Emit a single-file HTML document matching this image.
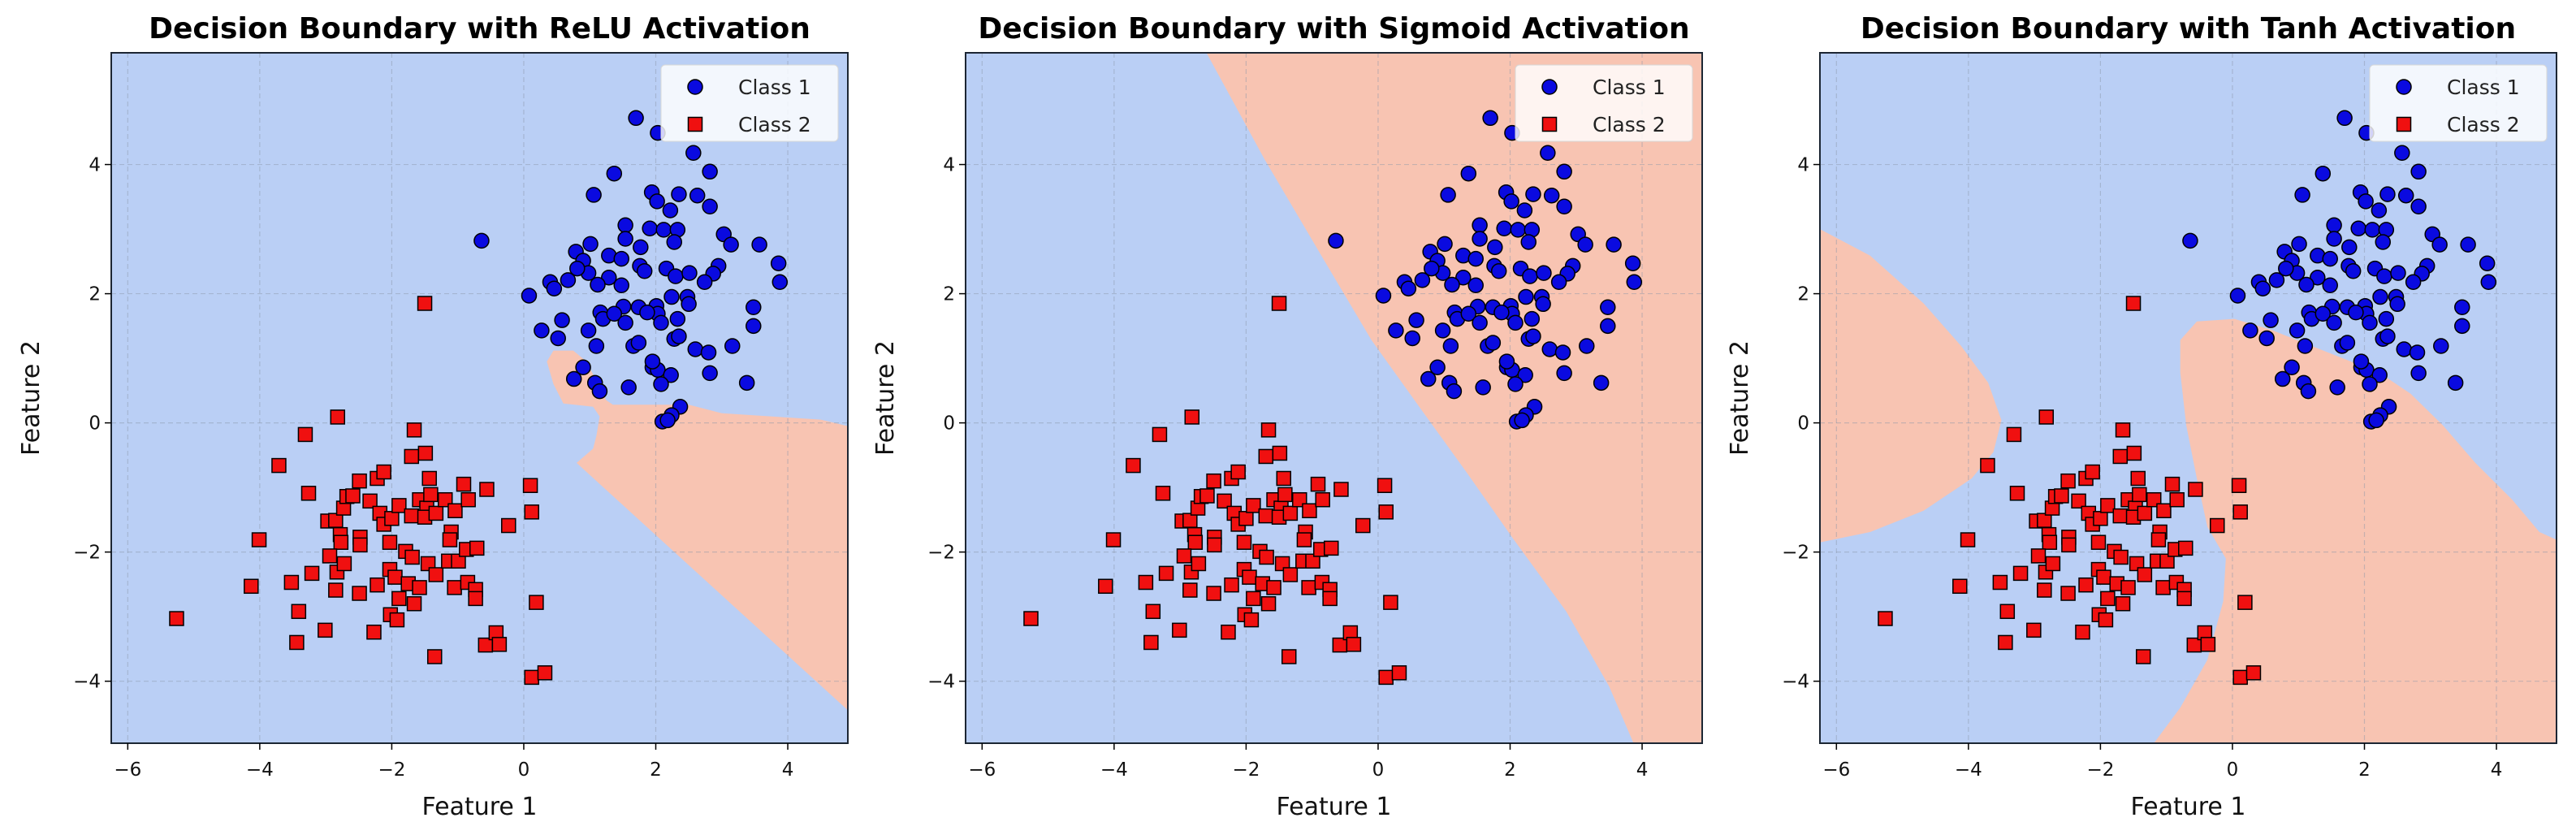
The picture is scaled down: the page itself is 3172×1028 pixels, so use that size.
<!DOCTYPE html>
<html><head><meta charset="utf-8">
<style>
html,body{margin:0;padding:0;background:#fff;}
svg{display:block;font-family:"DejaVu Sans","Liberation Sans",sans-serif;}
</style></head>
<body>
<svg id="fig" width="3172" height="1028" viewBox="0 0 3172 1028" xmlns="http://www.w3.org/2000/svg"></svg>
<script>
// ---- data ----
const class1X = [1.70,2.03,2.57,2.82,1.37,1.06,1.94,2.02,2.35,2.63,2.22,2.82,-0.64,1.54,1.91,2.12,2.33,2.28,1.01,0.79,1.54,1.77,3.03,3.14,3.57,1.29,1.48,0.90,0.98,0.81,1.76,1.83,1.29,1.48,1.12,0.67,0.40,0.46,0.08,2.16,2.30,2.51,2.95,2.87,2.74,3.86,3.88,2.24,2.48,2.50,2.01,2.03,1.51,1.74,1.87,1.16,1.20,1.37,1.54,2.08,2.33,0.58,0.27,0.52,0.98,1.10,1.66,1.74,2.28,2.35,2.60,2.80,3.16,3.48,3.48,3.38,2.82,1.95,2.03,1.95,2.23,2.08,0.90,0.76,1.08,1.15,1.59,2.37,2.24,2.10,2.18];
const class1Y = [4.72,4.49,4.18,3.89,3.86,3.53,3.57,3.43,3.54,3.52,3.29,3.35,2.82,3.06,3.01,2.99,2.99,2.80,2.77,2.65,2.85,2.72,2.92,2.76,2.76,2.59,2.54,2.51,2.32,2.39,2.43,2.35,2.25,2.13,2.14,2.21,2.18,2.08,1.97,2.39,2.27,2.32,2.43,2.31,2.18,2.47,2.18,1.95,1.95,1.84,1.81,1.69,1.80,1.79,1.71,1.71,1.61,1.69,1.55,1.55,1.61,1.59,1.43,1.31,1.43,1.19,1.19,1.24,1.30,1.34,1.14,1.09,1.19,1.79,1.50,0.62,0.77,0.86,0.82,0.95,0.74,0.60,0.86,0.68,0.62,0.49,0.55,0.25,0.12,0.02,0.04];
const class2X = [-5.26,-4.13,-4.01,-3.71,-3.52,-3.41,-3.44,-3.31,-3.26,-3.21,-3.01,-2.82,-2.97,-2.85,-2.73,-2.68,-2.59,-2.49,-2.78,-2.77,-2.94,-2.83,-2.85,-2.72,-2.48,-2.48,-2.49,-2.33,-2.22,-2.12,-2.18,-2.12,-2.00,-1.89,-2.03,-2.22,-2.03,-1.95,-2.02,-1.92,-2.27,-1.89,-1.79,-1.69,-1.75,-1.66,-1.58,-1.70,-1.58,-1.47,-1.50,-1.70,-1.49,-1.66,-1.43,-1.41,-1.33,-1.19,-1.45,-1.33,-1.35,-1.14,-1.10,-1.12,-1.04,-0.99,-1.05,-0.84,-0.91,-0.87,-0.71,-0.85,-0.73,-0.73,-0.56,-0.58,-0.42,-0.37,-0.23,0.10,0.12,0.19,0.12,0.32,-1.50];
const class2Y = [-3.03,-2.53,-1.81,-0.66,-2.47,-2.92,-3.40,-0.18,-1.09,-2.33,-3.21,0.09,-1.52,-1.51,-1.32,-1.14,-1.13,-0.90,-1.73,-1.85,-2.06,-2.31,-2.59,-2.18,-1.77,-1.89,-2.64,-1.21,-0.86,-0.76,-1.40,-1.57,-1.48,-1.28,-1.85,-2.51,-2.27,-2.39,-2.97,-3.05,-3.24,-2.72,-1.99,-2.08,-2.49,-2.80,-2.55,-1.44,-1.19,-1.32,-1.46,-0.52,-0.47,-0.11,-0.86,-1.11,-1.40,-1.19,-2.18,-2.35,-3.62,-2.14,-1.69,-1.81,-1.36,-2.14,-2.55,-1.19,-0.95,-1.96,-1.94,-2.47,-2.58,-2.72,-1.03,-3.44,-3.25,-3.43,-1.59,-0.97,-1.38,-2.78,-3.94,-3.87,1.85];
const xTicks = [-6,-4,-2,0,2,4];
const yTicks = [-4,-2,0,2,4];
const xDomain = [-6.25,4.91];
const yDomain = [-4.96,5.73];
const titles = ["Decision Boundary with ReLU Activation","Decision Boundary with Sigmoid Activation","Decision Boundary with Tanh Activation"];
// decision regions (class-2 areas) in data coordinates
const reluRegionX = [4.91,4.5,3.0,2.5,1.35,1.25,1.15,0.95,0.75,0.45,0.35,0.45,0.6,1.05,1.15,1.1,1.05,0.8,4.91];
const reluRegionY = [-0.05,0.05,0.15,0.28,0.28,0.35,0.55,0.95,1.12,1.12,0.95,0.6,0.3,0.25,0.1,-0.2,-0.4,-0.62,-4.45];
const sigmoidRegionX = [-2.60,-1.72,-0.86,-0.10,0.65,1.35,2.03,2.85,3.50,3.87,4.91,4.91];
const sigmoidRegionY = [5.73,4.08,2.59,1.28,0.21,-0.78,-1.77,-2.92,-4.08,-4.96,-4.96,5.73];
const tanhLeftX = [-6.25,-5.49,-4.68,-4.11,-3.70,-3.50,-3.62,-3.95,-4.68,-5.49,-6.25];
const tanhLeftY = [3.0,2.59,1.85,1.19,0.62,0.04,-0.45,-0.86,-1.36,-1.69,-1.85];
const tanhRightX = [-1.19,-0.79,-0.38,-0.14,-0.10,-0.38,-0.54,-0.70,-0.79,-0.79,-0.54,0.03,0.59,1.40,2.22,2.70,3.19,3.68,4.24,4.65,4.91,4.91];
const tanhRightY = [-4.96,-4.41,-3.67,-2.76,-2.10,-1.61,-0.86,-0.04,0.78,1.28,1.57,1.61,1.44,1.11,0.78,0.45,-0.04,-0.62,-1.19,-1.69,-1.81,-4.96];

const NS = "http://www.w3.org/2000/svg";
const svg = document.getElementById('fig');
function mk(tag, attrs, parent){const e=document.createElementNS(NS,tag);for(const k in attrs)e.setAttribute(k,attrs[k]);(parent||svg).appendChild(e);return e;}

const AX_L=137, AX_T=65, AX_W=907, AX_H=850, PANEL_DX=1052;
const regions = [
  [[reluRegionX,reluRegionY]],
  [[sigmoidRegionX,sigmoidRegionY]],
  [[tanhLeftX,tanhLeftY],[tanhRightX,tanhRightY]]
];
const regionNames=["relu","sigmoid","tanh"];

for(let p=0;p<3;p++){
  const L = AX_L + p*PANEL_DX;
  const sx = v => L + (v-xDomain[0])/(xDomain[1]-xDomain[0])*AX_W;
  const sy = v => AX_T + (yDomain[1]-v)/(yDomain[1]-yDomain[0])*AX_H;
  const g = mk('g',{});
  
  
  const cid='clip'+p;
  const defs=mk('defs',{},g);
  const cp=mk('clipPath',{id:cid},defs);
  mk('rect',{x:L,y:AX_T,width:AX_W,height:AX_H},cp);
  const bg=mk('rect',{x:L,y:AX_T,width:AX_W,height:AX_H,fill:'#bacff5'},g);
  
  
  regions[p].forEach((r,i)=>{
    const pts=r[0].map((x,j)=>sx(x).toFixed(1)+','+sy(r[1][j]).toFixed(1)).join(' ');
    const poly=mk('polygon',{points:pts,fill:'#f8c4b2','clip-path':'url(#'+cid+')'},g);
    
    
  });
  // grid
  xTicks.forEach(t=>{const l=mk('line',{x1:sx(t),x2:sx(t),y1:AX_T,y2:AX_T+AX_H,stroke:'#8a96a8','stroke-width':1.2,'stroke-dasharray':'6,4',opacity:0.45},g);
    });
  yTicks.forEach(t=>{const l=mk('line',{x1:L,x2:L+AX_W,y1:sy(t),y2:sy(t),stroke:'#8a96a8','stroke-width':1.2,'stroke-dasharray':'6,4',opacity:0.45},g);
    });
  // points
  class1X.forEach((x,i)=>{
    const c=mk('circle',{cx:sx(x),cy:sy(class1Y[i]),r:9,fill:'#0a0ae0',stroke:'#000','stroke-width':1.5,'clip-path':'url(#'+cid+')'},g);
    
    
  });
  class2X.forEach((x,i)=>{
    const s=mk('rect',{x:sx(x)-8.5,y:sy(class2Y[i])-8.5,width:17,height:17,fill:'#f01010',stroke:'#000','stroke-width':1.5,'clip-path':'url(#'+cid+')'},g);
    
    
  });
  // frame
  const fr=mk('rect',{x:L,y:AX_T,width:AX_W,height:AX_H,fill:'none',stroke:'#1c2633','stroke-width':2},g);
  
  
  // ticks
  xTicks.forEach(t=>{
    mk('line',{x1:sx(t),x2:sx(t),y1:AX_T+AX_H,y2:AX_T+AX_H+8,stroke:'#000','stroke-width':1.5},g);
    const tx=mk('text',{x:sx(t),y:AX_T+AX_H+40,'font-size':23,'text-anchor':'middle',fill:'#111'},g);
    tx.textContent=(t<0?'\u2212'+(-t):''+t);
    
    
  });
  yTicks.forEach(t=>{
    mk('line',{x1:L-8,x2:L,y1:sy(t),y2:sy(t),stroke:'#000','stroke-width':1.5},g);
    const tx=mk('text',{x:L-13,y:sy(t)+8,'font-size':23,'text-anchor':'end',fill:'#111'},g);
    tx.textContent=(t<0?'\u2212'+(-t):''+t);
    
    
  });
  // labels
  const xl=mk('text',{x:L+AX_W/2,y:1003,'font-size':30,'text-anchor':'middle',fill:'#111'},g);
  xl.textContent='Feature 1';
  
  
  const yl=mk('text',{x:0,y:0,'font-size':30,'text-anchor':'middle',fill:'#111',transform:'translate('+(L-89)+','+(AX_T+AX_H/2)+') rotate(-90)'},g);
  yl.textContent='Feature 2';
  
  
  const tt=mk('text',{x:L+AX_W/2,y:47,'font-size':36,'font-weight':'bold','text-anchor':'middle',fill:'#000'},g);
  tt.textContent=titles[p];
  
  
  // legend
  const lg=mk('g',{},g);
  
  
  const lx=L+AX_W-230, ly=AX_T+15;
  mk('rect',{x:lx,y:ly,width:218,height:94,rx:5,fill:'#ffffff','fill-opacity':0.82,stroke:'#d8d8d8','stroke-width':1},lg);
  const e1=mk('circle',{cx:lx+42,cy:ly+27,r:9,fill:'#0a0ae0',stroke:'#000','stroke-width':1.5},lg);
  
  
  const t1=mk('text',{x:lx+95,y:ly+36,'font-size':25,fill:'#222'},lg);
  t1.textContent='Class 1';
  
  
  const e2=mk('rect',{x:lx+33.5,y:ly+64.5,width:17,height:17,fill:'#f01010',stroke:'#000','stroke-width':1.5},lg);
  
  
  const t2=mk('text',{x:lx+95,y:ly+82,'font-size':25,fill:'#222'},lg);
  t2.textContent='Class 2';
  
  
}
</script>
</body></html>
